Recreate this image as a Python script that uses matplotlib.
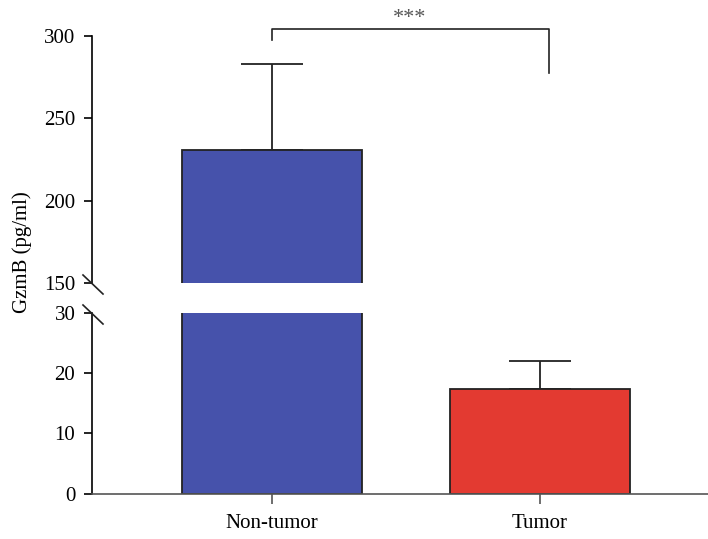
import matplotlib
matplotlib.use("Agg")
import matplotlib.pyplot as plt
from matplotlib.lines import Line2D

groups = ["Non-tumor", "Tumor"]
means = [230.5, 17.4]
sd_up = [52.5, 4.6]
colors = ["#4652AB", "#E33A31"]

top_ticks = [150, 200, 250, 300]
bottom_ticks = [0, 10, 20, 30]

plt.rcParams["font.family"] = ["Liberation Serif", "DejaVu Serif"]
plt.rcParams["font.size"] = 15

fig = plt.figure(figsize=(7.08, 5.39), dpi=100)
ax_top = fig.add_axes([0.130, 0.475, 0.870, 0.458])
ax_bot = fig.add_axes([0.130, 0.0844, 0.870, 0.3346])

x = [0, 1]
for ax in (ax_top, ax_bot):
    ax.bar(x, means, width=0.672, color=colors, edgecolor="#222222",
           linewidth=1.3, zorder=2)
    ax.errorbar(x, means, yerr=[[0, 0], sd_up], fmt="none",
                ecolor="#222222", elinewidth=1.3, capsize=22,
                capthick=1.3, zorder=1)
    ax.set_xlim(-0.672, 1.627)
    for s in ["top", "right"]:
        ax.spines[s].set_visible(False)
    ax.spines["left"].set_linewidth(1.2)
    ax.tick_params(axis="y", direction="out", length=6, width=1.2, pad=6)

ax_top.set_ylim(150, 300)
ax_top.set_yticks(top_ticks)
ax_top.spines["bottom"].set_visible(False)
ax_top.set_xticks([])

ax_bot.set_ylim(0, 30)
ax_bot.set_yticks(bottom_ticks)
ax_bot.spines["bottom"].set_color("#555555")
ax_bot.spines["bottom"].set_linewidth(1.2)
ax_bot.set_xticks(x)
ax_bot.set_xticklabels(groups)
ax_bot.tick_params(axis="x", direction="out", length=7, width=1.2,
                   color="#555555", pad=8)

# axis break marks
for y0 in [275, 305]:
    fig.add_artist(Line2D([83 / 708, 103 / 708],
                          [1 - y0 / 539, 1 - (y0 + 19) / 539],
                          color="#222222", linewidth=1.2))

# significance bracket
ax_top.plot([0, 0, 1.034, 1.034], [297.6, 304.2, 304.2, 277.5],
            color="#222222", linewidth=1.2, clip_on=False)
ax_top.text(0.515, 311, "***", ha="center", va="center", fontsize=16,
            color="#555555", clip_on=False)

fig.text(22 / 708, 1 - 252 / 539, "GzmB (pg/ml)", rotation=90,
         ha="center", va="center")

fig.savefig("out.png", dpi=100)
